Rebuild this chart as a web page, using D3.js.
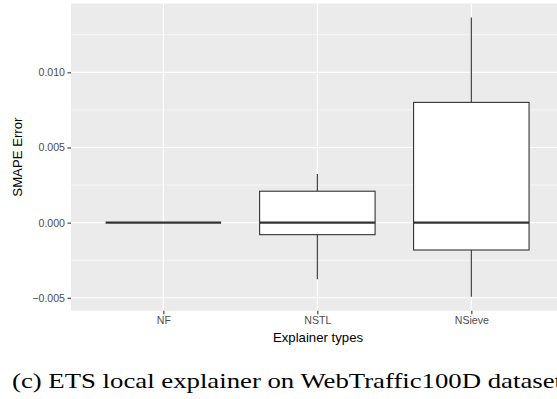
<!DOCTYPE html>
<html>
<head>
<meta charset="utf-8">
<script src="https://cdn.jsdelivr.net/npm/d3@7"></script>
<style>
  html, body { margin: 0; padding: 0; background: #fff; }
  svg { display: block; }
</style>
</head>
<body>
<div id="okvir"></div>
<script>
// values
const categories = ["NF", "NSTL", "NSieve"]
const lowerWhisker = [0, -0.00377, -0.00493]
const q1 = [0, -0.0008, -0.00182]
const median = [0, 0, 0]
const q3 = [0, 0.00209, 0.0080]
const upperWhisker = [0, 0.00323, 0.01365]
const yTicks = [-0.005, 0, 0.005, 0.010]
const yMinor = [-0.0025, 0.0025, 0.0075, 0.0125]

const boxes = categories.map((c, i) => ({
  kat: c, lo: lowerWhisker[i], q1: q1[i], med: median[i], q3: q3[i], hi: upperWhisker[i]
}))

// dimensions
const dim = {
  sirina: 557,
  visina: 399,
  left: 71,
  top: 3.5,
  right: 563.7,
  bottom: 310.7
}

const svg = d3.select("#okvir").append("svg")
  .attr("width", dim.sirina)
  .attr("height", dim.visina)

// scales
const yMin = d3.min(lowerWhisker), yMax = d3.max(upperWhisker)
const pad = (yMax - yMin) * 0.05
const ySkala = d3.scaleLinear()
  .domain([yMin - pad, yMax + pad])
  .range([dim.bottom, dim.top])

const xSkala = d3.scalePoint()
  .domain(categories)
  .range([dim.left, dim.right])
  .padding(0.6)
const boxW = xSkala.step() * 0.75

// panel
svg.append("rect")
  .attr("x", dim.left).attr("y", dim.top)
  .attr("width", dim.right - dim.left)
  .attr("height", dim.bottom - dim.top)
  .attr("fill", "#ebebeb")

const grid = svg.append("g")
grid.selectAll(".minor").data(yMinor).join("line")
  .attr("x1", dim.left).attr("x2", dim.right)
  .attr("y1", d => ySkala(d)).attr("y2", d => ySkala(d))
  .attr("stroke", "#fff").attr("stroke-width", 0.55)
grid.selectAll(".major").data(yTicks).join("line")
  .attr("x1", dim.left).attr("x2", dim.right)
  .attr("y1", d => ySkala(d)).attr("y2", d => ySkala(d))
  .attr("stroke", "#fff").attr("stroke-width", 1.1)
grid.selectAll(".vmajor").data(categories).join("line")
  .attr("x1", d => xSkala(d)).attr("x2", d => xSkala(d))
  .attr("y1", dim.top).attr("y2", dim.bottom)
  .attr("stroke", "#fff").attr("stroke-width", 1.1)

// boxplots
const kutije = svg.append("g").selectAll("g").data(boxes).join("g")
kutije.append("line")
  .attr("x1", d => xSkala(d.kat)).attr("x2", d => xSkala(d.kat))
  .attr("y1", d => ySkala(d.hi)).attr("y2", d => ySkala(d.q3))
  .attr("stroke", "#333").attr("stroke-width", 1.1)
kutije.append("line")
  .attr("x1", d => xSkala(d.kat)).attr("x2", d => xSkala(d.kat))
  .attr("y1", d => ySkala(d.q1)).attr("y2", d => ySkala(d.lo))
  .attr("stroke", "#333").attr("stroke-width", 1.1)
kutije.append("rect")
  .attr("x", d => xSkala(d.kat) - boxW / 2)
  .attr("width", boxW)
  .attr("y", d => ySkala(d.q3))
  .attr("height", d => ySkala(d.q1) - ySkala(d.q3))
  .attr("fill", "#fff").attr("stroke", "#333").attr("stroke-width", 1.1)
kutije.append("line")
  .attr("x1", d => xSkala(d.kat) - boxW / 2).attr("x2", d => xSkala(d.kat) + boxW / 2)
  .attr("y1", d => ySkala(d.med)).attr("y2", d => ySkala(d.med))
  .attr("stroke", "#333").attr("stroke-width", 2.2)

// axes
const yOs = svg.append("g")
  .attr("transform", `translate(${dim.left},0)`)
  .call(d3.axisLeft(ySkala).tickValues(yTicks).tickFormat(d3.format(".3f")).tickSize(3.5).tickPadding(2.5))
yOs.select(".domain").remove()
yOs.selectAll(".tick line").attr("stroke", "#333").attr("stroke-width", 1.1)
yOs.selectAll(".tick text")
  .attr("fill", "#4d4d4d")
  .style("font-family", "'Liberation Sans', Arial, sans-serif")
  .style("font-size", "10.6px")

const xOs = svg.append("g")
  .attr("transform", `translate(0,${dim.bottom})`)
  .call(d3.axisBottom(xSkala).tickSize(3.5).tickPadding(2.5))
xOs.select(".domain").remove()
xOs.selectAll(".tick line").attr("stroke", "#333").attr("stroke-width", 1.1)
xOs.selectAll(".tick text")
  .attr("fill", "#4d4d4d")
  .style("font-family", "'Liberation Sans', Arial, sans-serif")
  .style("font-size", "10.6px")

// axis titles
svg.append("text")
  .attr("x", (dim.left + 471.7 + 163.3 - dim.left) / 2 + 0.5)
  .attr("y", 341.5)
  .attr("text-anchor", "middle")
  .style("font-family", "'Liberation Sans', Arial, sans-serif")
  .style("font-size", "13.2px")
  .attr("fill", "#000")
  .text("Explainer types")

svg.append("text")
  .attr("transform", `translate(22,${(dim.top + dim.bottom) / 2}) rotate(-90)`)
  .attr("text-anchor", "middle")
  .style("font-family", "'Liberation Sans', Arial, sans-serif")
  .style("font-size", "13.2px")
  .attr("fill", "#000")
  .text("SMAPE Error")

// caption
svg.append("text")
  .attr("x", 12)
  .attr("y", 388)
  .attr("textLength", 550)
  .attr("lengthAdjust", "spacingAndGlyphs")
  .style("font-family", "'Liberation Serif', 'DejaVu Serif', serif")
  .style("font-size", "22px")
  .attr("fill", "#000")
  .text("(c) ETS local explainer on WebTraffic100D dataset")
</script>
</body>
</html>
